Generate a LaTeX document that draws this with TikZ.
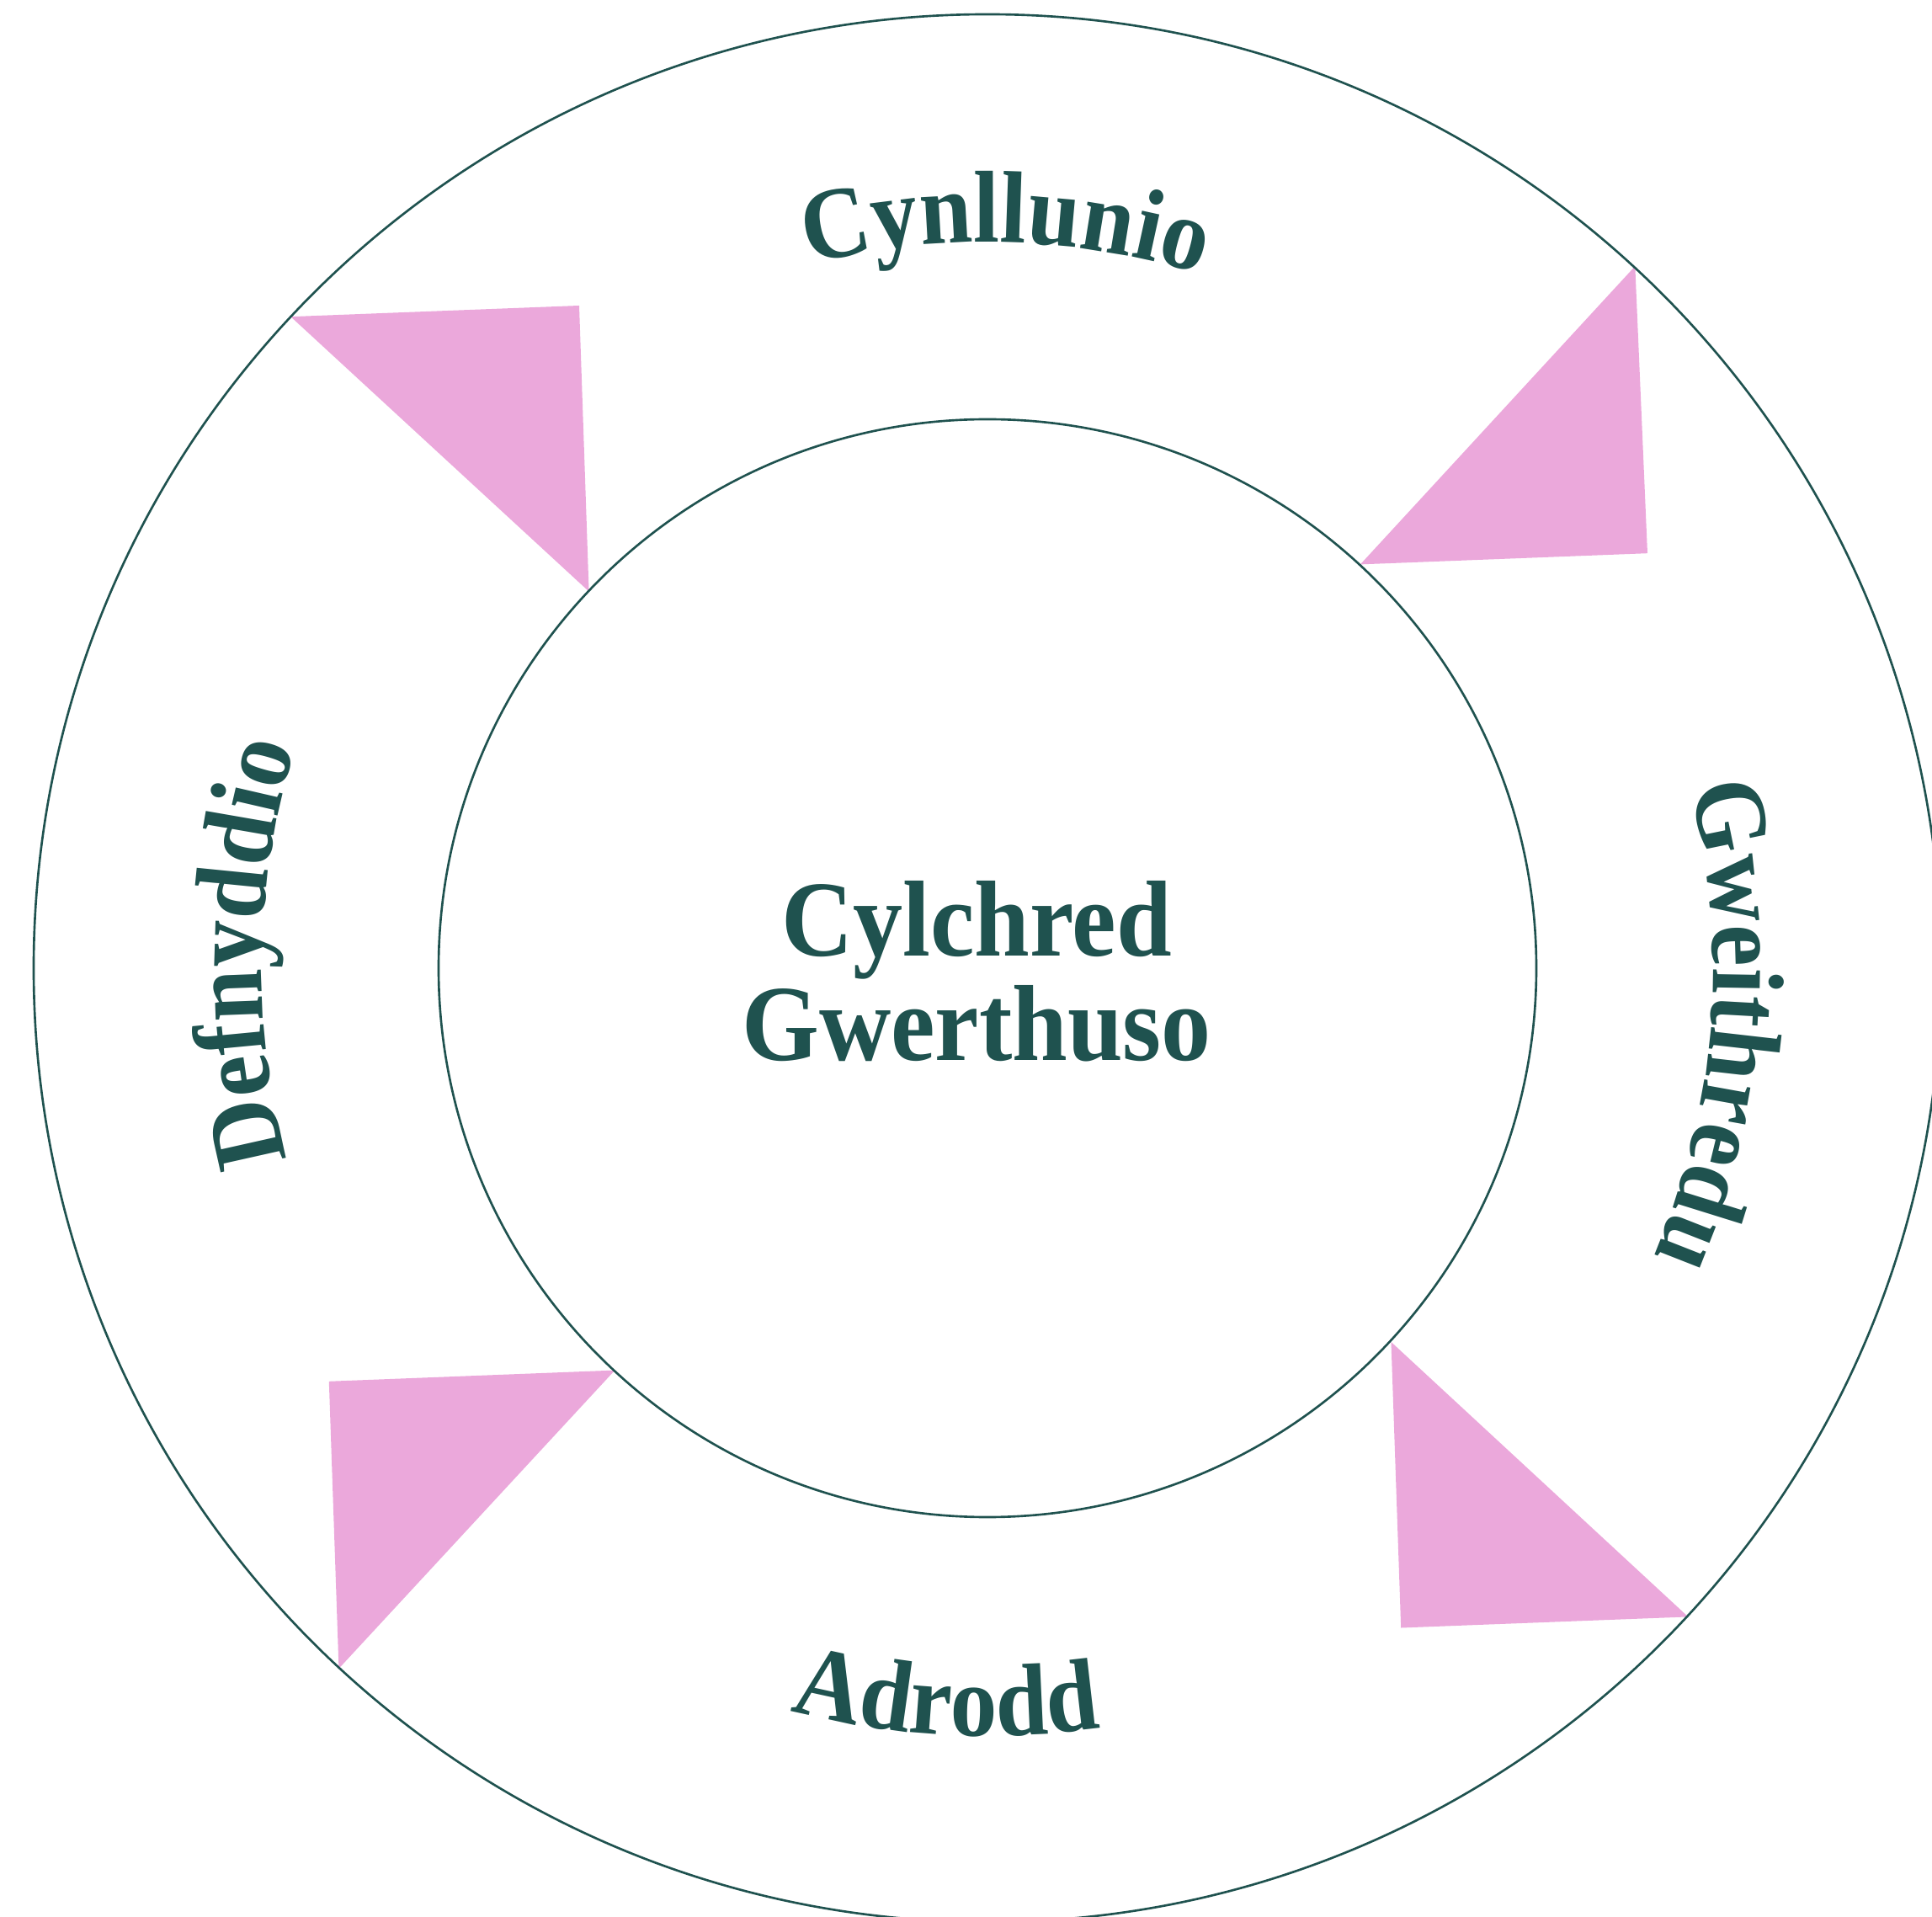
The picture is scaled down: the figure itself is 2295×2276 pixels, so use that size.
\documentclass[tikz,border=0pt]{standalone}
\usepackage{fontspec}
\setmainfont{Liberation Serif}[FakeStretch=0.92]
\usetikzlibrary{decorations.text}
\definecolor{ringgreen}{HTML}{1F524F}
\definecolor{arrowpink}{HTML}{EBA8DB}
\newcommand\lblfont{\fontsize{34.5}{40}\selectfont\bfseries}
\newcommand\ttlfont{\fontsize{36.5}{35}\selectfont\bfseries}
\begin{document}
\begin{tikzpicture}[x=0.01cm,y=0.01cm,
  ring/.style={draw=ringgreen,line width=0.75pt},
  wedge/.style={fill=arrowpink,draw=none},
  title/.style={text=ringgreen,font=\ttlfont,inner sep=0pt,anchor=base},
  arclabel/.style={decorate,decoration={text along path,text align=center,text color=ringgreen,text={|\lblfont|#1}}}]
\useasboundingbox (-1173,-1126) rectangle (1122,1150);
% pink wedges
\fill[wedge] (-827.6,773.8) -- (-485.0,787.0) -- (-473.4,447.4) -- cycle;
\fill[wedge] (769.3,833.8) -- (784.0,492.8) -- (442.9,479.6) -- cycle;
\fill[wedge] (479.5,-444.0) -- (491.2,-783.5) -- (832.3,-770.4) -- cycle;
\fill[wedge] (-442.6,-477.6) -- (-782.2,-490.8) -- (-770.5,-831.9) -- cycle;
% rings
\draw[ring] (0,0) circle[radius=1133];
\draw[ring] (0,0) circle[radius=652];
% centre title
\node[title] (t1) at (-13,14) {Cylchred};
\node[title] (t2) at (-13,-109) {Gwerthuso};
% curved labels
\path[arclabel=Cynllunio] (148.6:862) arc[start angle=148.6,end angle=28.6,radius=862];
\path[arclabel=Gweithredu] (55.5:862) arc[start angle=55.5,end angle=-64.5,radius=862];
\path[arclabel=Adrodd] (206.8:912) arc[start angle=206.8,end angle=326.8,radius=912];
\path[arclabel=Defnyddio] (238.8:862) arc[start angle=238.8,end angle=118.8,radius=862];
\end{tikzpicture}
\end{document}
